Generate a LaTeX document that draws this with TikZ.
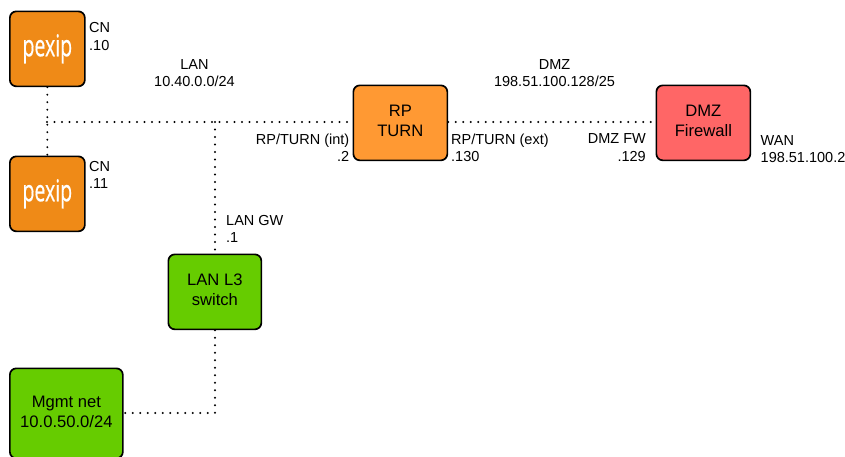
\documentclass[tikz,border=0pt]{standalone}
\usepackage{fontspec}
\setmainfont{Liberation Sans}
\newfontfamily\logofont[FakeBold=0.6]{Open Sans}
\tikzset{
  x=1pt,y=-1pt,
  boxbase/.style={draw=black,line width=1.7pt,rounded corners=6.5pt,anchor=north west,inner sep=0pt,align=center,font=\fontsize{16.6}{20}\selectfont,text=black},
  pexbox/.style={boxbase,fill=pexorange,minimum width=75pt,minimum height=75pt},
  rpbox/.style={boxbase,fill=rporange,minimum width=94pt,minimum height=75pt},
  fwbox/.style={boxbase,fill=fwred,minimum width=94pt,minimum height=75pt},
  swbox/.style={boxbase,fill=swgreen,minimum width=93pt,minimum height=75pt},
  netbox/.style={boxbase,fill=swgreen,minimum width=113pt,minimum height=90pt},
  lbl/.style={align=left,anchor=north west,inner sep=0pt,font=\fontsize{14.5}{17.5}\selectfont,text=black},
  lblc/.style={align=center,anchor=north,inner sep=0pt,font=\fontsize{14.5}{17.5}\selectfont,text=black},
  lblr/.style={align=right,anchor=north east,inner sep=0pt,font=\fontsize{14.5}{17.5}\selectfont,text=black},
  link/.style={draw=black,line width=2.2pt,line cap=round,dash pattern=on 0pt off 7.5pt},
}
\definecolor{pexorange}{HTML}{EF8A17}
\definecolor{rporange}{HTML}{FF9933}
\definecolor{fwred}{HTML}{FF6666}
\definecolor{swgreen}{HTML}{66CC00}
\newcommand{\pexlogo}{\raisebox{-3pt}{\logofont\color{white}\scalebox{0.78}[1.2]{\fontsize{25}{25}\selectfont pexip}}}
\newcommand{\lifted}[2]{\raisebox{#1}{\begin{tabular}{@{}c@{}}#2\end{tabular}}}
\begin{document}
\begin{tikzpicture}
\useasboundingbox (0,0) rectangle (845,456);
\coordinate (junction) at (47,122);
\coordinate (lantee) at (215,122);
\coordinate (mgmtcorner) at (215,413);
\node[pexbox] (cn10) at (9,10.5) {\pexlogo};
\node[pexbox] (cn11) at (9,155.5) {\pexlogo};
\node[rpbox] (rp) at (352.5,84.5) {\lifted{3pt}{RP\\TURN}};
\node[fwbox] (fw) at (655.5,84.5) {\lifted{3pt}{DMZ\\Firewall}};
\node[swbox] (sw) at (167.5,253.5) {\lifted{3pt}{LAN L3\\switch}};
\node[netbox] (mgmt) at (9,367.5) {\lifted{1pt}{Mgmt net\\10.0.50.0/24}};
\draw[link] (cn10.south) -- (cn11.north);
\draw[link] (junction) -- (rp.west |- junction);
\draw[link] (rp.east |- junction) -- (fw.west |- junction);
\draw[link] (lantee) -- (sw.north -| lantee);
\draw[link] (sw.south -| lantee) -- (mgmtcorner) -- (mgmt.east |- mgmtcorner);
\node[lbl] (l1) at (89,22.5) {CN\\.10};
\node[lbl] (l2) at (89,161) {CN\\.11};
\node[lblc] (l3) at (194.5,59) {LAN\\10.40.0.0/24};
\node[lblc] (l4) at (554.5,59) {DMZ\\198.51.100.128/25};
\node[lblr] (l5) at (349.5,133.5) {RP/TURN (int)\\.2};
\node[lbl] (l6) at (451,133.5) {RP/TURN (ext)\\.130};
\node[lblr] (l7) at (646,133.5) {DMZ FW\\.129};
\node[lbl] (l8) at (760.5,135) {WAN\\198.51.100.2};
\node[lbl] (l9) at (226,215) {LAN GW\\.1};
\end{tikzpicture}
\end{document}
